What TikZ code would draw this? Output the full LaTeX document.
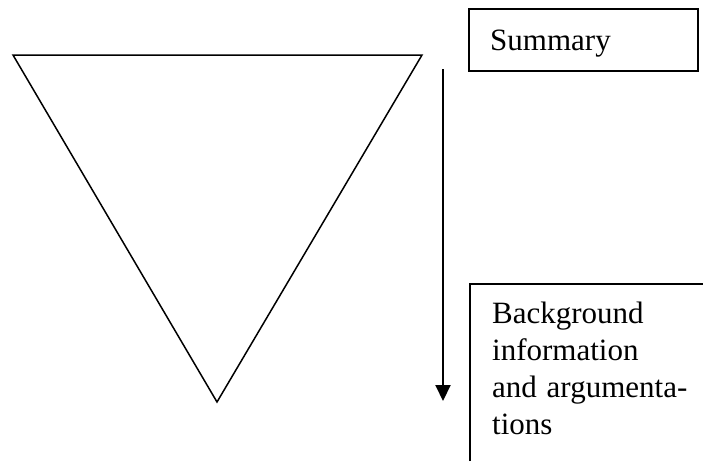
\documentclass[tikz,border=0pt]{standalone}
\usepackage{fontspec}
\setmainfont{Liberation Serif}
\usetikzlibrary{arrows.meta}

\tikzset{
  outline/.style={line width=1.5pt, line join=miter},
  label text/.style={inner sep=0pt, font=\fontsize{31}{36.7}\selectfont},
  flow arrow/.style={line width=2pt, -{Triangle[length=16pt,width=15pt]}}
}

\begin{document}
\begin{tikzpicture}[x=1pt, y=-1pt]
  \useasboundingbox (0,0) rectangle (703,461);

  % inverted triangle
  \coordinate (tl) at (13,55);
  \coordinate (tr) at (422,55);
  \coordinate (bt) at (217,402);
  \draw[outline] (tl) -- (tr) -- (bt) -- cycle;

  % downward arrow
  \coordinate (astart) at (443,69);
  \coordinate (aend) at (443,401);
  \draw[flow arrow] (astart) -- (aend);

  % summary box
  \draw[outline] (469,9) rectangle (698,71);
  \node[label text, anchor=base west] (summary) at (490,50) {Summary};

  % background box, running off the page on the right and below
  \draw[outline] (470,461) -- (470,284) -- (703,284);
  % base anchor of a multi-line node sits on its last line
  \node[label text, anchor=base west, align=left] (background) at (492,434)
    {Background\\information\\and\hspace{2pt} argumenta-\\tions};
\end{tikzpicture}
\end{document}
